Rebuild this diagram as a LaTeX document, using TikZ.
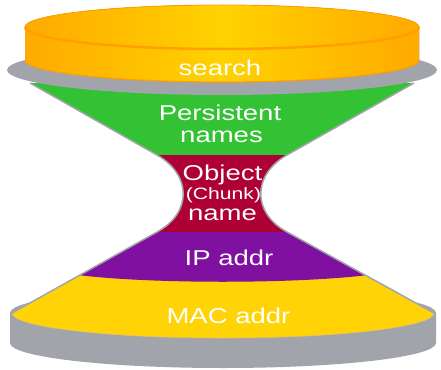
\documentclass[tikz,border=0pt]{standalone}
\usepackage{fontspec}
\newfontfamily\wf[FakeStretch=1.28]{Liberation Sans}
\definecolor{rimgray}{HTML}{A2A4AB}
\definecolor{basegray}{HTML}{A2A4AB}
\definecolor{orgedge}{HTML}{FFAA00}
\definecolor{orgmid}{HTML}{FFD200}
\definecolor{orgdark}{HTML}{FFA000}
\definecolor{grn}{HTML}{33C233}
\definecolor{crim}{HTML}{AE0034}
\definecolor{purp}{HTML}{7F10A0}
\definecolor{yel}{HTML}{FFD305}
\definecolor{yeledge}{HTML}{E2C466}
\begin{document}
\begin{tikzpicture}[x=1pt,y=-1pt,
  lbl/.style={text=white, font=\wf\fontsize{21.5}{24}\selectfont, inner sep=0pt, anchor=base},
  sml/.style={text=white, font=\wf\fontsize{16.5}{18}\selectfont, inner sep=0pt, anchor=base},
  orgshade/.style={left color=orgedge, right color=orgedge, middle color=orgmid}]
\useasboundingbox (0,0) rectangle (441,369);
% gray base
\fill[basegray] (10,313) -- (10,343) arc[start angle=180,end angle=0,x radius=213,y radius=25] -- (436,313) -- cycle;
\fill[basegray] (223,313) ellipse [x radius=213, y radius=25];
% hourglass body
\begin{scope}
\clip (30,83) -- (157,155) .. controls (192,175) and (192,213) .. (157,232) -- (12,313)
  arc[start angle=180,end angle=0,x radius=211,y radius=25]
  -- (287,232) .. controls (252,213) and (252,175) .. (287,155) -- (414,83) -- cycle;
\fill[yel] (0,0) rectangle (441,369);
\fill[purp] (0,232) -- (0,272) -- (78,275) .. controls (150,284) and (295,284) .. (368,275) -- (441,272) -- (441,232) -- cycle;
\fill[crim] (0,155) rectangle (441,232);
\fill[grn] (0,0) rectangle (441,155);
\end{scope}
\draw[yeledge, line width=0.6] (12,313) arc[start angle=180,end angle=0,x radius=211,y radius=25];
\draw[rimgray, line width=1.5] (30,83) -- (157,155) .. controls (192,175) and (192,213) .. (157,232) -- (12,313);
\draw[rimgray, line width=1.5] (414,83) -- (287,155) .. controls (252,175) and (252,213) .. (287,232) -- (434,313);
% gray rim
\fill[rimgray] (222,70) ellipse [x radius=215, y radius=25];
% orange cylinder
\fill[orgshade] (25,27) -- (25,60) arc[start angle=180,end angle=0,x radius=197,y radius=22] -- (419,27) -- cycle;
\draw[orgdark, line width=1.2] (25,60) arc[start angle=180,end angle=0,x radius=197,y radius=22];
\fill[orgshade] (222,27) ellipse [x radius=197, y radius=22];
\draw[orgdark, line width=0.8] (25,27) arc[start angle=180,end angle=360,x radius=197,y radius=22];
\draw[orgdark, line width=2.5] (25,27) arc[start angle=180,end angle=0,x radius=197,y radius=22];
% labels
\node[lbl] (search) at (220,75) {search};
\node[lbl] (pers) at (220,120) {Persistent};
\node[lbl] (names) at (221.5,142) {names};
\node[lbl] (obj) at (222.5,180) {Object};
\node[sml] (chunk) at (223.5,199) {(Chunk)};
\node[lbl] (name) at (222.5,220) {name};
\node[lbl] (ip) at (229,265) {IP addr};
\node[lbl] (mac) at (228.5,323) {MAC addr};
\end{tikzpicture}
\end{document}
